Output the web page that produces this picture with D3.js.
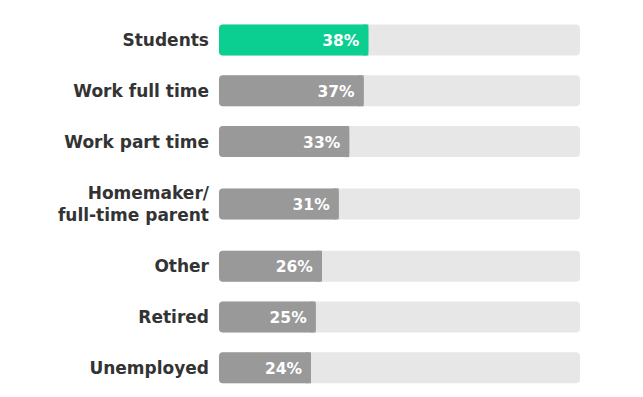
<!DOCTYPE html>
<html>
<head>
<meta charset="utf-8">
<script src="https://cdn.jsdelivr.net/npm/d3@7"></script>
<style>
  body { margin: 0; background: #fff; }
  svg text { font-family: "DejaVu Sans", sans-serif; }
</style>
</head>
<body>
<svg width="643" height="397"></svg>
<script>
var categories = ["Students", "Work full time", "Work part time", "Homemaker/\nfull-time parent", "Other", "Retired", "Unemployed"];
var values = [38.3, 37.1, 33.4, 30.7, 26.4, 24.8, 23.6];
var highlight = "Students";

var svg = d3.select("svg");

var x = d3.scaleLinear()
    .domain([0, 92.6])
    .range([219, 580]);

// row layout: two-line labels get a taller row
var rows = [];
var yPos = 14.6;
categories.forEach(function(c, i) {
  var lines = c.split("\n");
  var h = 50.8 + (lines.length - 1) * 23;
  rows.push({ name: c, lines: lines, value: values[i], center: yPos + h / 2 });
  yPos += h;
});

var barH = 31;

var g = svg.append("g")
    .selectAll("g")
    .data(rows)
    .enter().append("g");

g.append("rect")
    .attr("x", x(0))
    .attr("y", function(d) { return d.center - barH / 2; })
    .attr("width", x.range()[1] - x(0))
    .attr("height", barH)
    .attr("rx", 4)
    .attr("fill", "#e7e7e7");

g.append("rect")
    .attr("x", x(0))
    .attr("y", function(d) { return d.center - barH / 2; })
    .attr("width", function(d) { return x(d.value) - x(0); })
    .attr("height", barH)
    .attr("rx", 4)
    .attr("fill", function(d) { return d.name == highlight ? "#0bcf91" : "#999999"; });

// flatten the right corners of the value bar
g.append("rect")
    .attr("x", function(d) { return x(d.value) - 5; })
    .attr("y", function(d) { return d.center - barH / 2; })
    .attr("width", 5)
    .attr("height", barH)
    .attr("fill", function(d) { return d.name == highlight ? "#0bcf91" : "#999999"; });

g.append("text")
    .attr("x", function(d) { return x(d.value) - 9; })
    .attr("y", function(d) { return d.center + 6; })
    .attr("text-anchor", "end")
    .attr("fill", "#fff")
    .attr("font-size", 15.5)
    .attr("font-weight", "bold")
    .text(function(d) { return Math.round(d.value) + "%"; });

var labels = g.append("text")
    .attr("text-anchor", "end")
    .attr("fill", "#333")
    .attr("font-size", 17)
    .attr("font-weight", "bold");

labels.selectAll("tspan")
    .data(function(d) {
      return d.lines.map(function(l, i) {
        return { t: l, y: d.center + 6 + (i - (d.lines.length - 1) / 2) * 21.5 };
      });
    })
    .enter().append("tspan")
    .attr("x", 209)
    .attr("y", function(d) { return d.y; })
    .text(function(d) { return d.t; });
</script>
</body>
</html>
